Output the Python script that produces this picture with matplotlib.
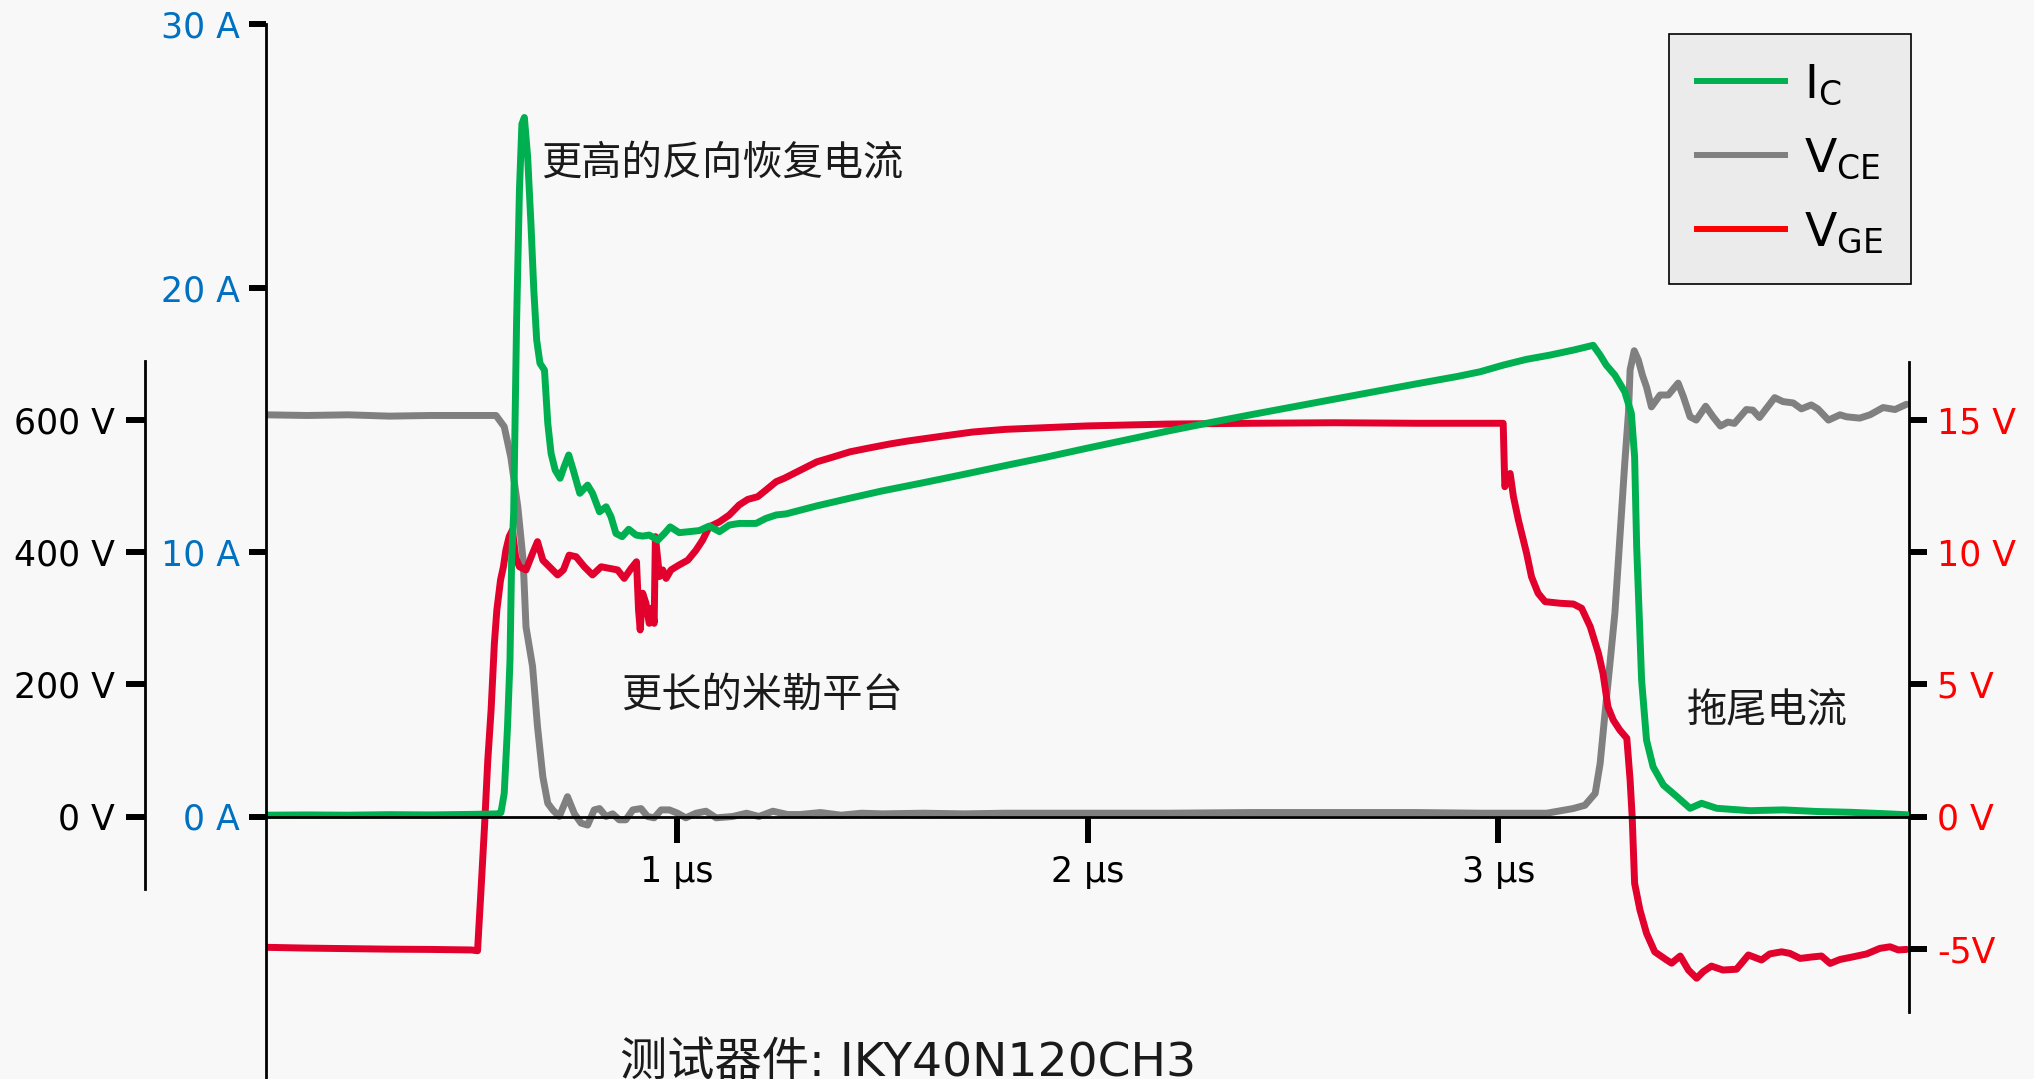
import matplotlib
matplotlib.use("Agg")
import matplotlib.pyplot as plt
from matplotlib.lines import Line2D

plt.rcParams['font.family'] = ['DejaVu Sans', 'Noto Sans CJK SC']
plt.rcParams['mathtext.fontset'] = 'dejavusans'

# ---------------- measured waveforms (time in µs) ----------------
# collector current I_C [A]
t_ic = [0.00, 0.10, 0.20, 0.30, 0.40, 0.50, 0.565, 0.572, 0.580, 0.588, 0.594, 0.598,
        0.603, 0.610, 0.617, 0.623, 0.629, 0.637, 0.645, 0.652, 0.659, 0.667, 0.678,
        0.686, 0.694, 0.704, 0.716, 0.726, 0.737, 0.748, 0.764, 0.783, 0.795, 0.812,
        0.828, 0.840, 0.852, 0.867, 0.883, 0.901, 0.917, 0.933, 0.954, 0.970, 0.984,
        1.006, 1.031, 1.055, 1.079, 1.104, 1.128, 1.152, 1.193, 1.217, 1.242, 1.266,
        1.34, 1.42, 1.50, 1.60, 1.70, 1.80, 1.90, 2.00, 2.10, 2.20, 2.30, 2.40, 2.50,
        2.60, 2.70, 2.80, 2.90, 2.956, 3.012, 3.069, 3.126, 3.183, 3.231, 3.248, 3.263,
        3.284, 3.308, 3.324, 3.332, 3.337, 3.343, 3.349, 3.361, 3.377, 3.402, 3.435,
        3.467, 3.495, 3.532, 3.613, 3.694, 3.775, 3.856, 3.95, 4.00]
ic = [0.05, 0.06, 0.05, 0.07, 0.06, 0.08, 0.10, 0.15, 0.88, 3.40, 5.92, 9.70,
      11.5, 18.66, 23.7, 26.2, 26.45, 24.96, 22.44, 19.92, 18.03, 17.15, 16.89,
      14.88, 13.74, 13.11, 12.80, 13.24, 13.68, 13.11, 12.23, 12.54, 12.23, 11.53,
      11.72, 11.34, 10.71, 10.59, 10.87, 10.65, 10.61, 10.65, 10.46, 10.71, 10.96,
      10.74, 10.78, 10.82, 10.99, 10.78, 11.03, 11.09, 11.09, 11.28, 11.41, 11.45,
      11.75, 12.04, 12.32, 12.63, 12.95, 13.28, 13.60, 13.94, 14.27, 14.60, 14.91,
      15.21, 15.50, 15.79, 16.08, 16.37, 16.65, 16.83, 17.08, 17.30, 17.46, 17.65,
      17.83, 17.46, 17.08, 16.70, 16.07, 15.26, 13.6, 10.21, 7.69, 5.16, 2.89, 1.88,
      1.19, 0.75, 0.31, 0.50, 0.31, 0.22, 0.25, 0.19, 0.16, 0.10, 0.06]

# collector-emitter voltage V_CE [V]
t_vce = [0.00, 0.10, 0.20, 0.30, 0.40, 0.50, 0.560, 0.580, 0.596, 0.613, 0.626, 0.633,
         0.649, 0.661, 0.674, 0.686, 0.698, 0.714, 0.734, 0.751, 0.767, 0.783, 0.799,
         0.812, 0.828, 0.844, 0.860, 0.876, 0.893, 0.913, 0.929, 0.945, 0.962, 0.982,
         1.002, 1.022, 1.047, 1.071, 1.096, 1.136, 1.17, 1.20, 1.234, 1.27, 1.30, 1.35,
         1.40, 1.45, 1.50, 1.60, 1.70, 1.80, 2.00, 2.20, 2.40, 2.60, 2.80, 2.956, 3.118,
         3.182, 3.211, 3.236, 3.248, 3.260, 3.272, 3.284, 3.292, 3.300, 3.308, 3.317,
         3.321, 3.331, 3.341, 3.351, 3.361, 3.373, 3.394, 3.414, 3.438, 3.451, 3.467,
         3.482, 3.505, 3.523, 3.541, 3.559, 3.575, 3.604, 3.620, 3.636, 3.652, 3.673,
         3.693, 3.718, 3.738, 3.762, 3.778, 3.804, 3.832, 3.848, 3.880, 3.905, 3.937,
         3.966, 3.994]
vce = [608, 607, 608, 606, 607, 607, 607, 590, 544, 469, 388, 287,
       227, 136, 60, 20, 10, 0, 30, 4, -10, -13, 10,
       12, 0, 4, -5, -5, 10, 12, 0, -2, 10, 10,
       5, -2, 5, 8, -2, 0, 5, 0, 8, 3, 3, 6,
       2, 5, 4, 5, 4, 5, 5, 5, 6, 6, 6, 5, 5,
       12, 17, 35, 80, 157, 232, 308, 383, 459, 535, 611,
       676, 705, 691, 668, 650, 620, 638, 638, 656, 635, 605,
       600, 621, 605, 591, 597, 595, 616, 615, 604, 617, 634,
       628, 626, 617, 623, 617, 600, 608, 605, 603, 608, 619,
       616, 624]

# gate-emitter voltage V_GE [V]
t_vge = [0.00, 0.10, 0.20, 0.30, 0.40, 0.50, 0.515, 0.523, 0.532, 0.540, 0.548, 0.556,
         0.562, 0.571, 0.578, 0.584, 0.592, 0.600, 0.608, 0.617, 0.633, 0.649, 0.661,
         0.674, 0.690, 0.710, 0.724, 0.738, 0.755, 0.775, 0.795, 0.816, 0.836, 0.856,
         0.872, 0.889, 0.902, 0.907, 0.911, 0.917, 0.925, 0.933, 0.941, 0.945, 0.948,
         0.958, 0.966, 0.974, 0.986, 1.006, 1.027, 1.047, 1.063, 1.079, 1.104, 1.128,
         1.152, 1.173, 1.197, 1.217, 1.242, 1.262, 1.30, 1.341, 1.38, 1.422, 1.47, 1.52,
         1.563, 1.65, 1.721, 1.80, 1.879, 2.00, 2.195, 2.40, 2.60, 2.80, 3.012, 3.016,
         3.029, 3.037, 3.049, 3.057, 3.069, 3.081, 3.097, 3.114, 3.150, 3.183, 3.203,
         3.224, 3.244, 3.255, 3.267, 3.280, 3.296, 3.313, 3.321, 3.326, 3.332, 3.345,
         3.361, 3.381, 3.410, 3.422, 3.443, 3.463, 3.483, 3.499, 3.519, 3.547, 3.580,
         3.609, 3.641, 3.661, 3.690, 3.710, 3.735, 3.767, 3.787, 3.808, 3.832, 3.864,
         3.897, 3.929, 3.954, 3.974, 3.994]
vge = [-4.95, -4.98, -5.00, -5.02, -5.03, -5.05, -5.08, -2.91, -0.38, 2.14, 4.03, 6.55,
       7.81, 8.95, 9.45, 10.08, 10.59, 10.84, 9.80, 9.45, 9.33, 9.96, 10.40,
       9.70, 9.45, 9.14, 9.33, 9.89, 9.83, 9.45, 9.14, 9.45, 9.39, 9.33,
       9.01, 9.39, 9.64, 7.81, 7.06, 8.45, 8.07, 7.31, 7.90, 7.31, 10.59,
       9.08, 9.33, 9.01, 9.33, 9.52, 9.70, 10.08, 10.46, 10.96, 11.15, 11.41,
       11.79, 12.00, 12.10, 12.35, 12.67, 12.80, 13.10, 13.42, 13.60, 13.80, 13.95, 14.10,
       14.21, 14.40, 14.55, 14.65, 14.70, 14.78, 14.85, 14.88, 14.90, 14.88, 14.88, 12.48,
       12.98, 12.10, 11.22, 10.71, 9.96, 9.07, 8.45, 8.13, 8.07, 8.04, 7.88,
       7.18, 6.17, 5.42, 4.15, 3.65, 3.27, 2.96, 1.38, 0.00, -2.53, -3.54,
       -4.42, -5.12, -5.43, -5.55, -5.28, -5.81, -6.12, -5.87, -5.66, -5.81, -5.78,
       -5.24, -5.43, -5.20, -5.12, -5.18, -5.37, -5.31, -5.28, -5.56, -5.41, -5.31,
       -5.20, -4.99, -4.93, -5.05, -5.03]

# axis ticks and labels
x_ticks = [1, 2, 3]
x_labels = ['1 µs', '2 µs', '3 µs']
ic_ticks = [0, 10, 20, 30]
ic_labels = ['0 A', '10 A', '20 A', '30 A']
vce_ticks = [0, 200, 400, 600]
vce_labels = ['0 V', '200 V', '400 V', '600 V']
vge_ticks = [-5, 0, 5, 10, 15]
vge_labels = ['-5V', '0 V', '5 V', '10 V', '15 V']

# ---------------- colours ----------------
C_IC = '#00B050'
C_VCE = '#808080'
C_VGE = '#E2002D'
C_VGE_KEY = '#FF0000'
C_AMP = '#0070C0'
C_BG = '#F8F8F8'

# ---------------- figure / axes geometry (pixels) ----------------
W, H = 2034, 1079
X_LEFT, X_RIGHT = 266, 1909
Y_30A = 23.7
Y_ZERO = 816.5
PX_PER_A = (Y_ZERO - Y_30A) / 30.0
Y_BOTTOM = Y_ZERO + 10 * PX_PER_A

fig = plt.figure(figsize=(W / 100, H / 100), dpi=100, facecolor=C_BG)
ax = fig.add_axes([X_LEFT / W, 1 - Y_BOTTOM / H,
                   (X_RIGHT - X_LEFT) / W, (Y_BOTTOM - Y_30A) / H])
ax.set_xlim(0, 4)
ax.set_ylim(-10, 30)

axv = ax.twinx()
axv.set_ylim(-400, 1200)
axg = ax.twinx()
axg.set_ylim(-10, 30)

ax.set_zorder(3)
axg.set_zorder(2)
axv.set_zorder(1)
for a in (ax, axv, axg):
    a.patch.set_visible(False)
    for s in a.spines.values():
        s.set_visible(False)

SPINE_W = 2.0
TICK_W = 4.3

# current axis (main)
ax.spines['left'].set_visible(True)
ax.spines['left'].set_bounds(-10, 30)
ax.spines['left'].set_linewidth(SPINE_W)
ax.spines['bottom'].set_visible(True)
ax.spines['bottom'].set_position(('data', 0))
ax.spines['bottom'].set_linewidth(SPINE_W)
ax.set_xticks(x_ticks)
ax.set_xticklabels(x_labels)
ax.tick_params(axis='x', direction='out', length=19, width=TICK_W, pad=9,
               labelsize=25, colors='black')
ax.set_yticks(ic_ticks)
ax.set_yticklabels(ic_labels)
ax.tick_params(axis='y', direction='out', length=12.5, width=TICK_W, pad=6.5,
               labelsize=25, labelcolor=C_AMP, color='black')

# V_CE axis, offset to the left
axv.spines['left'].set_visible(True)
axv.spines['left'].set_position(('axes', -(X_LEFT - 145) / (X_RIGHT - X_LEFT)))
axv.spines['left'].set_bounds(-110, 690)
axv.spines['left'].set_linewidth(SPINE_W)
axv.yaxis.set_ticks_position('left')
axv.yaxis.set_label_position('left')
axv.set_yticks(vce_ticks)
axv.set_yticklabels(vce_labels)
axv.tick_params(axis='y', direction='out', length=13.4, width=TICK_W, pad=8.6,
                labelsize=25, labelcolor='black')

# V_GE axis on the right
axg.spines['right'].set_visible(True)
axg.spines['right'].set_bounds(-7.4, 17.2)
axg.spines['right'].set_linewidth(SPINE_W)
axg.set_yticks(vge_ticks)
axg.set_yticklabels(vge_labels)
axg.tick_params(axis='y', direction='out', length=13, width=TICK_W, pad=7,
                labelsize=25, labelcolor=C_VGE_KEY)

# ---------------- waveforms ----------------
LW = 5.0
axv.plot(t_vce, vce, color=C_VCE, lw=LW, solid_joinstyle='round', solid_capstyle='round')
axg.plot(t_vge, vge, color=C_VGE, lw=LW, solid_joinstyle='round', solid_capstyle='round')
ax.plot(t_ic, ic, color=C_IC, lw=LW, solid_joinstyle='round', solid_capstyle='round')

# ---------------- legend ----------------
handles = [Line2D([], [], color=C_IC, lw=4.3),
           Line2D([], [], color=C_VCE, lw=4.3),
           Line2D([], [], color=C_VGE_KEY, lw=4.3)]
labels = [r'$\mathregular{I_C}$', r'$\mathregular{V_{CE}}$', r'$\mathregular{V_{GE}}$']
leg = ax.legend(handles, labels, loc='upper right',
                bbox_to_anchor=(1911 / W, 1 - 34 / H), bbox_transform=fig.transFigure,
                borderaxespad=0, fontsize=34, handlelength=1.85, handletextpad=0.4,
                borderpad=0.6, labelspacing=0.62, fancybox=False, framealpha=1,
                facecolor='#EBEBEB', edgecolor='black')
leg.get_frame().set_linewidth(1.2)

# ---------------- annotations ----------------
CJK = ['Noto Sans CJK SC', 'DejaVu Sans']
ax.text(0.6695, 24.69, '更高的反向恢复电流', fontsize=29, family=CJK, fontweight='light',
        ha='left', va='center', color='#1A1A1A')
ax.text(0.864, 4.60, '更长的米勒平台', fontsize=29, family=CJK, fontweight='light',
        ha='left', va='center', color='#1A1A1A')
ax.text(3.459, 4.03, '拖尾电流', fontsize=29, family=CJK, fontweight='light',
        ha='left', va='center', color='#1A1A1A')

fig.text(908 / W, 3 / H, '测试器件: IKY40N120CH3', fontsize=34,
         ha='center', va='baseline', color='#1A1A1A')

fig.savefig('out.png', dpi=100, facecolor=fig.get_facecolor())
